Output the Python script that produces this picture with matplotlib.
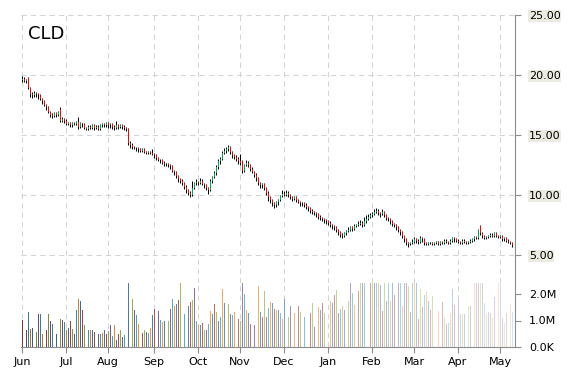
import numpy as np
import pandas as pd
import matplotlib
matplotlib.use("Agg")
import matplotlib.pyplot as plt
from matplotlib.colors import to_rgb

# trading days shown (Jun 2011 .. May 2012)
days = pd.bdate_range("2011-06-01", "2012-05-09")

opens = np.array("""
19.6 19.7 19.5 19.75 18.9 18.4 18.3 18.5 18.4 18.3 18.0 17.8 17.5 17.3 16.9 16.7 16.6 16.8 16.7 17.2 16.2 16.3
16.2 15.9 16.0 15.8 16.0 15.9 16.1 15.7 16.0 15.9 15.6 15.5 15.7 15.6 15.8 15.6 15.7 15.5 15.8 15.9 15.8
16.0 15.8 15.9 15.7 15.6 15.8 15.7 15.8 15.7 15.6 15.5 14.3 14.2 14.0 13.9 13.9 13.8 13.7 13.8 13.6 13.5 13.6 13.5
13.4 13.3 13.1 12.9 12.9 12.7 12.6 12.6 12.5 12.4 12.0 11.9 11.6 11.3 11.2 11.0 10.7 10.4 10.2 10.0 10.6 11.0
11.1 11.0 11.2 10.9 10.8 10.6 10.4 11.2 11.5 11.8 12.3 12.8 13.0 13.5 13.7 13.8 14.0 13.6 13.3 13.2 13.0
12.8 12.8 12.0 12.5 12.7 12.5 12.2 11.9 11.7 11.4 11.0 10.8 10.9 10.6 10.2 9.8 9.6 9.3 9.2 9.4 9.6 9.9
10.1 10.0 10.2 10.0 9.8 9.7 9.8 9.6 9.4 9.3 9.3 9.2 9.0 8.9 8.7 8.6 8.5 8.4 8.2 8.1 8.0 7.9
7.8 7.7 7.5 7.4 7.3 7.1 6.9 6.7 6.6 6.8 7.0 7.1 7.3 7.2 7.4 7.5 7.6 7.7 7.5 7.8 8.0 8.2
8.3 8.4 8.6 8.7 8.5 8.4 8.6 8.3 8.1 8.0 7.8 7.6 7.5 7.3 7.1 6.9 6.6 6.3 6.0 5.9 6.0
6.1 6.3 6.2 6.1 6.4 6.3 6.0 5.9 6.0 6.0 5.9 6.0 6.1 5.9 6.1 6.0 6.2 6.1 6.0 6.2 6.4 6.3
6.2 6.1 6.0 6.2 6.1 6.0 6.1 6.2 6.3 6.5 6.4 7.4 6.8 6.6 6.4 6.5 6.6 6.7 6.6 6.8 6.6
6.5 6.6 6.3 6.4 6.2 6.1 6.0
""".split(), float)

closes = np.array("""
19.7 19.5 19.6 18.9 18.4 18.3 18.5 18.4 18.3 18.0 17.8 17.5 17.3 16.9 16.7 16.6 16.8 16.7 16.9 16.2 16.3 16.2
15.9 16.0 15.8 16.0 15.9 16.1 15.7 16.0 15.9 15.6 15.5 15.7 15.6 15.8 15.6 15.7 15.5 15.8 15.9 15.8 16.0
15.8 15.9 15.7 15.6 15.8 15.7 15.8 15.7 15.6 15.5 14.3 14.2 14.0 13.9 13.9 13.8 13.7 13.8 13.6 13.5 13.6 13.5 13.4
13.3 13.1 12.9 12.9 12.7 12.6 12.6 12.5 12.4 12.0 11.9 11.6 11.3 11.2 11.0 10.7 10.4 10.2 10.0 10.6 11.0 11.1
11.0 11.2 10.9 10.8 10.6 10.4 11.2 11.5 11.8 12.3 12.8 13.0 13.5 13.7 13.8 14.0 13.6 13.3 13.2 13.0 12.8
12.7 12.0 12.5 12.7 12.5 12.2 11.9 11.7 11.4 11.0 10.8 10.9 10.6 10.2 9.8 9.6 9.3 9.2 9.4 9.6 9.9 10.1
10.0 10.2 10.0 9.8 9.7 9.8 9.6 9.4 9.3 9.3 9.2 9.0 8.9 8.7 8.6 8.5 8.4 8.2 8.1 8.0 7.9 7.8
7.7 7.5 7.4 7.3 7.1 6.9 6.7 6.6 6.8 7.0 7.1 7.3 7.2 7.4 7.5 7.6 7.7 7.5 7.8 8.0 8.2 8.3
8.4 8.6 8.7 8.5 8.4 8.6 8.3 8.1 8.0 7.8 7.6 7.5 7.3 7.1 6.9 6.6 6.3 6.0 5.9 6.0 6.1
6.3 6.2 6.1 6.4 6.3 6.0 5.9 6.0 6.0 5.9 6.0 6.1 5.9 6.1 6.0 6.2 6.1 6.0 6.2 6.4 6.3 6.2
6.1 6.0 6.2 6.1 6.0 6.1 6.2 6.3 6.5 6.4 7.1 6.8 6.6 6.4 6.5 6.6 6.7 6.6 6.8 6.6 6.5
6.6 6.3 6.4 6.2 6.1 6.0 5.8
""".split(), float)

highs = np.array("""
19.9 19.8 19.7 19.8 19.0 18.6 18.7 18.6 18.5 18.4 18.1 17.9 17.6 17.4 17.0 16.8 16.9 16.9 17.0 17.3 16.5 16.4
16.3 16.1 16.1 16.1 16.1 16.2 16.5 16.1 16.0 16.0 15.7 15.8 15.8 15.9 15.9 15.8 15.8 15.9 16.0 16.0 16.1
16.1 16.0 16.0 15.8 16.2 15.9 15.9 15.9 15.8 15.7 15.6 14.5 14.3 14.1 14.0 14.0 13.9 13.9 13.9 13.7 13.7 13.7 13.8
13.5 13.4 13.2 13.0 13.0 12.8 12.7 12.7 12.6 12.5 12.1 12.0 11.7 11.4 11.3 11.1 10.8 10.5 10.3 11.2 11.1 11.3
11.2 11.4 11.3 11.0 10.9 10.7 11.3 11.6 12.0 12.5 13.0 13.2 13.7 13.9 14.0 14.2 14.1 13.7 13.4 13.3 13.2
13.4 12.9 12.6 12.9 12.8 12.6 12.3 12.0 11.8 11.5 11.1 11.0 11.0 10.7 10.3 9.9 9.7 9.4 9.5 9.7 10.0 10.4
10.3 10.4 10.3 10.1 9.9 9.9 9.9 9.7 9.5 9.4 9.4 9.3 9.1 9.0 8.8 8.7 8.6 8.5 8.3 8.2 8.1 8.0
7.9 7.8 7.6 7.5 7.4 7.2 7.0 6.8 6.9 7.1 7.3 7.4 7.4 7.6 7.6 7.8 7.9 7.8 8.2 8.3 8.4 8.5
8.6 8.8 8.9 8.8 8.6 8.8 8.7 8.4 8.2 8.1 7.9 7.7 7.6 7.4 7.2 7.0 6.7 6.4 6.1 6.1 6.3
6.5 6.4 6.3 6.6 6.5 6.4 6.1 6.1 6.1 6.1 6.1 6.2 6.2 6.2 6.2 6.3 6.3 6.2 6.3 6.5 6.5 6.4
6.3 6.2 6.3 6.3 6.2 6.2 6.3 6.4 6.6 6.6 7.2 7.5 6.9 6.7 6.6 6.7 6.8 6.8 6.9 6.9 6.7
6.7 6.7 6.5 6.5 6.3 6.2 6.1
""".split(), float)

lows = np.array("""
19.4 19.4 19.3 18.8 18.2 18.1 18.2 18.2 18.0 17.9 17.6 17.4 17.1 16.8 16.5 16.4 16.5 16.5 16.6 16.1 16.1 16.0
15.8 15.8 15.7 15.7 15.8 15.8 15.5 15.6 15.7 15.5 15.4 15.4 15.5 15.5 15.4 15.5 15.4 15.4 15.7 15.7 15.7
15.6 15.6 15.5 15.4 15.5 15.5 15.6 15.5 15.4 15.3 14.2 13.9 13.8 13.8 13.7 13.6 13.6 13.6 13.5 13.4 13.4 13.4 13.3
13.1 12.9 12.8 12.7 12.6 12.4 12.4 12.3 12.2 11.9 11.7 11.4 11.1 11.0 10.8 10.5 10.2 10.0 9.8 9.9 10.5 10.8
10.8 10.9 10.8 10.6 10.4 10.1 10.3 11.0 11.4 11.7 12.2 12.6 12.9 13.4 13.5 13.7 13.4 13.1 13.0 12.8 12.6
12.5 11.8 11.9 12.4 12.3 12.0 11.8 11.5 11.2 10.8 10.6 10.6 10.4 10.0 9.5 9.3 9.1 8.9 9.0 9.2 9.5 9.8
9.9 9.9 9.8 9.7 9.5 9.6 9.4 9.3 9.1 9.1 9.0 8.8 8.7 8.5 8.4 8.3 8.2 8.0 7.9 7.8 7.7 7.6
7.5 7.3 7.2 7.1 6.9 6.7 6.5 6.4 6.5 6.7 6.9 7.0 7.0 7.1 7.3 7.4 7.5 7.3 7.4 7.7 7.9 8.1
8.2 8.3 8.5 8.3 8.2 8.3 8.2 7.9 7.8 7.6 7.4 7.3 7.1 6.9 6.7 6.4 6.1 5.8 5.7 5.8 5.9
6.0 6.0 5.9 6.0 6.1 5.8 5.8 5.8 5.9 5.8 5.8 5.9 5.8 5.8 5.9 5.9 6.0 5.9 5.9 6.1 6.1 6.1
6.0 5.9 5.9 6.0 5.9 5.9 6.0 6.1 6.2 6.3 6.3 6.7 6.4 6.3 6.3 6.4 6.5 6.5 6.5 6.5 6.4
6.4 6.2 6.2 6.1 6.0 5.9 5.7
""".split(), float)

# daily volume, millions of shares (0 = no bar visible)
volume = np.array("""
1.03 0 0.65 1.33 0.69 0.73 0 0.58 1.23 1.23 0.5 0 0.65 1.26 0.98 0.85 0 0.5 0 1.07 1.03 0.94
0.63 0.73 1.0 0.69 0.5 1.38 1.82 1.72 1.38 0.82 0 0.65 0.65 0.63 0.56 0 0.48 0.5 0.53 0.65 0.48
0.6 0.82 0.4 0.82 0.25 0.48 0.65 0.38 0.46 0 2.5 0 1.82 1.38 1.2 0.88 0 0.53 0.65 0.56 0.54 0.73 1.2
1.45 0 1.35 1.03 0.94 1.0 0 1.0 1.45 1.82 1.56 1.64 1.79 2.5 0 1.23 0 1.56 1.7 1.79 2.24 1.0
0.82 0.82 0.9 0.63 0.63 0.88 1.35 1.26 1.64 1.32 1.0 1.15 2.18 1.67 0 1.64 1.23 1.2 1.32 0 1.07
0.98 2.5 2.0 1.38 1.28 0.88 0 0.82 0 2.3 1.32 1.13 2.1 1.15 1.48 1.7 1.66 1.45 1.38 1.38 1.29 1.04
1.83 0 1.13 1.54 0 1.29 0 1.54 1.33 0 1.13 0 0 1.29 1.66 0.75 0 1.5 1.38 1.66 1.29 0
0 1.75 1.66 1.95 2.16 1.29 1.45 1.54 1.38 0 1.75 2.6 2.04 1.6 0 2.1 2.6 2.6 2.6 0 0 2.6
2.6 2.6 2.6 2.6 2.35 1.35 2.6 1.75 2.6 1.73 2.6 1.95 0 2.6 2.6 1.54 2.6 2.6 2.29 1.33 2.6
2.6 2.6 1.04 2.2 1.5 1.98 2.08 1.73 1.41 1.91 0 0 1.35 0 1.7 1.1 0.88 0.91 1.29 2.2 1.6 0
1.79 1.23 1.23 1.23 0 1.54 1.54 0 2.6 2.6 2.6 2.6 2.6 1.66 1.23 1.33 1.29 1.1 1.88 0 2.6
2.6 1.1 0.91 1.29 0 1.63 1.33
""".split(), float)

price_ticks = [5, 10, 15, 20, 25]
price_labels = ["5.00", "10.00", "15.00", "20.00", "25.00"]
vol_ticks = [0, 1, 2]
vol_labels = ["0.0K", "1.0M", "2.0M"]
title = "CLD"

palette = ["#C0504D", "#9BBB59", "#8064A2", "#4BACC6", "#F79646", "#4F81BD"]


def shade(color, s):
    r = np.array(to_rgb(color))
    if s < 0:
        return tuple(r * (1 + s))
    return tuple(r + (1 - r) * s)


def main():
    x = np.arange(len(days))
    month_starts = [i for i in range(len(days))
                    if i == 0 or days[i].month != days[i - 1].month]
    month_names = [days[i].strftime("%b") for i in month_starts]

    fig = plt.figure(figsize=(5.7, 3.7), dpi=100)
    W, H = 570.0, 370.0
    left, right = 21 / W, 515 / W
    ax = fig.add_axes([left, (H - 283) / H, right - left, (283 - 15) / H])
    axv = fig.add_axes([left, (H - 347) / H, right - left, (347 - 283) / H], sharex=ax)

    grid_kw = dict(color="#d4d4d4", lw=0.75, ls=(0, (5, 4)))
    gray = "#8c8c8c"

    # candles
    up = closes >= opens
    body_col = np.where(up, "#00a651", "#ff0000")
    ax.vlines(x, lows, highs, color="black", lw=0.7, zorder=3)
    hgt = np.where(np.abs(closes - opens) < 0.05, 0.05, closes - opens)
    ax.bar(x + 0.35, hgt, bottom=opens, width=0.45, color=body_col, lw=0, zorder=4)

    ax.set_ylim(25 - (283 - 15) / 12.0, 25)
    ax.set_xlim(-0.6, len(days) + 0.5)
    ax.set_yticks(price_ticks)
    ax.set_yticklabels(price_labels)
    ax.yaxis.tick_right()
    ax.tick_params(axis="y", length=4, width=0.8, color=gray, pad=6, labelsize=8)
    ax.tick_params(axis="x", length=0, labelbottom=False)
    for lbl in ax.get_yticklabels():
        lbl.set_bbox(dict(facecolor="#ecebe2", edgecolor="none", pad=0.5))
    for yv in price_ticks:
        ax.axhline(yv, zorder=0, **grid_kw)
    for m in month_starts:
        ax.axvline(m, zorder=0, **grid_kw)
    for s in ["top", "left", "bottom"]:
        ax.spines[s].set_visible(False)
    ax.spines["right"].set_color(gray)

    # volume bars, colour fades across the year
    n = len(days)
    vcols = [shade(palette[i % len(palette)], -0.3 + 1.05 * i / (n - 1)) for i in x]
    axv.bar(x, volume, width=0.5, color=vcols, lw=0, zorder=3)
    axv.set_ylim(0, 64 / 26.5)
    axv.set_yticks(vol_ticks)
    axv.set_yticklabels(vol_labels)
    axv.yaxis.tick_right()
    axv.tick_params(axis="y", length=4, width=0.8, color=gray, pad=6, labelsize=8)
    axv.set_xticks(month_starts)
    axv.set_xticklabels(month_names)
    axv.tick_params(axis="x", length=4, width=0.8, color=gray, pad=3, labelsize=8)
    for m in month_starts:
        axv.axvline(m, zorder=0, **grid_kw)
    for s in ["top", "left"]:
        axv.spines[s].set_visible(False)
    axv.spines["right"].set_color(gray)
    axv.spines["bottom"].set_color(gray)

    fig.text(28 / W, 1 - 39 / H, title, fontsize=13, va="baseline", ha="left")

    fig.savefig("out.png", dpi=100)
    return 0


main()
